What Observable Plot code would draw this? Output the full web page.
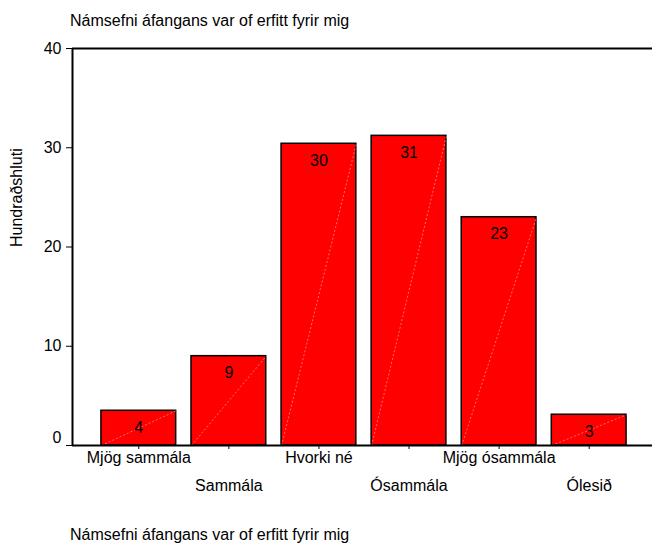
<!DOCTYPE html>
<html><head><meta charset="utf-8">
<script src="https://cdn.jsdelivr.net/npm/d3@7"></script>
<script src="https://cdn.jsdelivr.net/npm/@observablehq/plot@0.6"></script>
<style>
body{margin:0;background:#fff;font-family:"Liberation Sans",Arial,sans-serif;}
#wrap{position:relative;width:652px;height:544px;overflow:hidden;}
#wrap svg{position:absolute;left:0;top:0;}
.t{position:absolute;left:70px;font-size:16px;line-height:16px;white-space:nowrap;color:#000;}
</style></head><body>
<div id="wrap"></div>
<script>
const categories = ["Mjög sammála", "Sammála", "Hvorki né", "Ósammála", "Mjög ósammála", "Ólesið"];
const percent = [3.5, 9.0, 30.4, 31.2, 23.0, 3.1];
const valueLabels = ["4", "9", "30", "31", "23", "3"];
const yTicks = [0, 10, 20, 30, 40];
const titleText = "Námsefni áfangans var of erfitt fyrir mig";
const captionText = "Námsefni áfangans var of erfitt fyrir mig";
const yLabel = "Hundraðshluti";

const data = categories.map((c, i) => ({i, c, v: percent[i], label: valueLabels[i]}));
const hw = 0.415;
const xDomain = [-0.736, 5.703];

const chart = Plot.plot({
  width: 652, height: 544,
  marginLeft: 72, marginRight: 0, marginTop: 48, marginBottom: 99,
  style: {fontFamily: "'Liberation Sans', Arial, sans-serif", fontSize: "16px", background: "transparent", color: "#000", overflow: "visible"},
  x: {domain: xDomain},
  y: {domain: [0, 40]},
  marks: [
    Plot.rect(data, {x1: d => d.i - hw, x2: d => d.i + hw, y1: 0, y2: "v", fill: "#ff0000", stroke: "#000", strokeWidth: 1.5}),
    Plot.link(data, {x1: d => d.i - hw, y1: 0, x2: d => d.i + hw, y2: "v", stroke: "#ffb4b4", strokeWidth: 0.6, strokeDasharray: "2,2"}),
    Plot.text(data, {x: "i", y: "v", text: "label", dy: 17, fill: "#000"}),
    Plot.ruleY([0, 40], {stroke: "#000", strokeWidth: 2}),
    Plot.ruleX([xDomain[0]], {y1: 0, y2: 40, stroke: "#000", strokeWidth: 2}),
    Plot.axisX(data.map(d => d.i), {tickSize: 4, tickFormat: () => "", label: null}),
    Plot.axisY(yTicks, {tickSize: 6, tickPadding: 5, tickFormat: d => d === 0 ? "" : String(d), label: null}),
    Plot.text([yTicks[0]], {y: d => d, text: d => String(d), frameAnchor: "left", dx: -11, dy: -8, textAnchor: "end"}),
    Plot.text([yLabel], {text: d => d, frameAnchor: "left", dx: -56, rotate: -90}),
    Plot.text(data.filter(d => d.i % 2 === 0), {x: "i", text: "c", frameAnchor: "bottom", dy: 17}),
    Plot.text(data.filter(d => d.i % 2 === 1), {x: "i", text: "c", frameAnchor: "bottom", dy: 45})
  ]
});
const wrap = document.getElementById("wrap");
wrap.appendChild(chart);
const t = document.createElement("div");
t.className = "t"; t.style.top = "13px"; t.textContent = titleText;
wrap.appendChild(t);
const c = document.createElement("div");
c.className = "t"; c.style.top = "527px"; c.textContent = captionText;
wrap.appendChild(c);
</script>
</body></html>
